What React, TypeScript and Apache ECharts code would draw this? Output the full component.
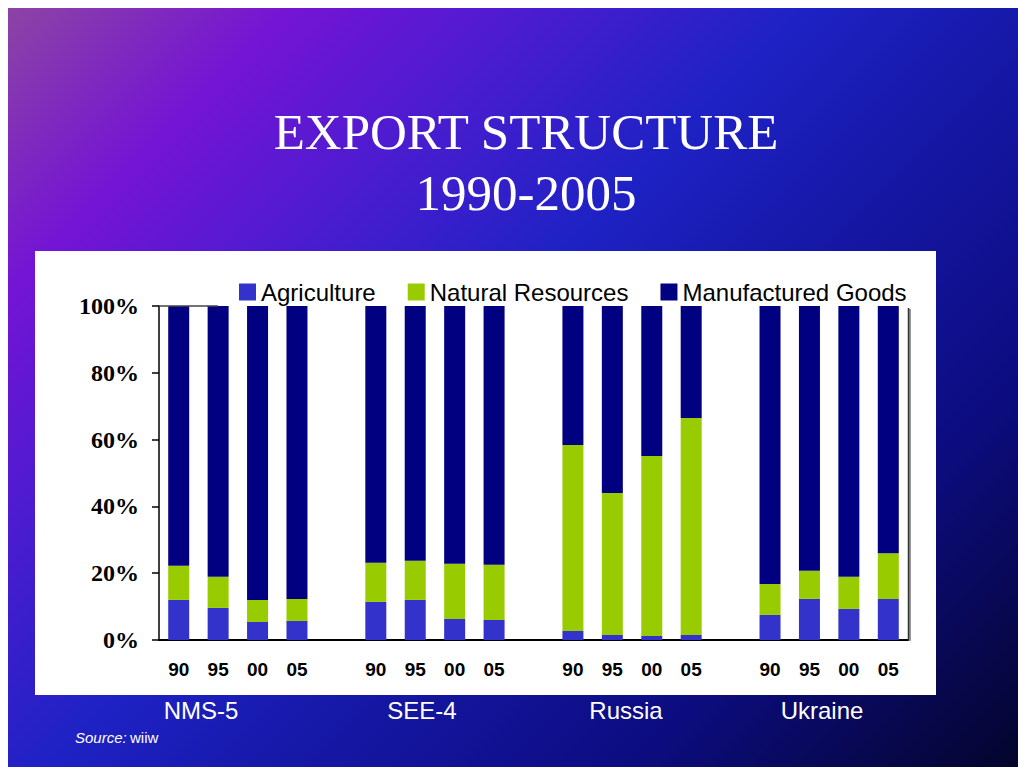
import React, { useEffect, useRef } from "react";
import * as echarts from "echarts";

const categories = ["90", "95", "00", "05", "", "90", "95", "00", "05", "", "90", "95", "00", "05", "", "90", "95", "00", "05"];
const agriculture = [12.0, 9.6, 5.4, 5.7, null, 11.4, 12.0, 6.3, 6.0, null, 2.7, 1.5, 1.2, 1.5, null, 7.5, 12.3, 9.3, 12.3];
const naturalResources = [10.2, 9.3, 6.6, 6.6, null, 11.7, 11.7, 16.5, 16.5, null, 55.7, 42.5, 53.9, 65.0, null, 9.3, 8.4, 9.6, 13.7];
const manufactured = [77.8, 81.1, 88.0, 87.7, null, 76.9, 76.3, 77.2, 77.5, null, 41.6, 56.0, 44.9, 33.5, null, 83.2, 79.3, 81.1, 74.0];
const groupLabels = ["NMS-5", "SEE-4", "Russia", "Ukraine"];
const groupLabelX = [193, 414, 618, 814];
const seriesNames = ["Agriculture", "Natural Resources", "Manufactured Goods"];
const seriesColors = ["#3333CC", "#99CC00", "#000080"];
const titleLines = ["EXPORT STRUCTURE", "1990-2005"];

export default function App() {
  const ref = useRef<HTMLDivElement>(null);
  useEffect(() => {
    document.body.style.overflow = "hidden";
    const chart = echarts.init(ref.current!, null, { renderer: "svg" });
    const values = [agriculture, naturalResources, manufactured];
    chart.setOption({
      animation: false,
      backgroundColor: "transparent",
      legend: {
        left: 226,
        top: 267,
        itemWidth: 17,
        itemHeight: 17,
        itemGap: 32,
        icon: "rect",
        textStyle: { fontFamily: "Liberation Sans, Arial, sans-serif", fontSize: 24, color: "#000" },
        data: seriesNames,
      },
      grid: { left: 151, top: 298, width: 749, height: 334, containLabel: false },
      xAxis: {
        type: "category",
        data: categories,
        axisLine: { lineStyle: { color: "#000", width: 2 } },
        axisTick: { show: false },
        axisLabel: {
          interval: 0,
          margin: 20,
          fontFamily: "Liberation Sans, Arial, sans-serif",
          fontWeight: "bold",
          fontSize: 19,
          color: "#000",
        },
      },
      yAxis: {
        type: "value",
        min: 0,
        max: 100,
        interval: 20,
        axisLine: { show: true, lineStyle: { color: "#000", width: 1.5 } },
        axisTick: { show: true, length: 7, lineStyle: { color: "#000", width: 1.5 } },
        splitLine: { show: false },
        axisLabel: {
          margin: 20,
          formatter: "{value}%",
          fontFamily: "Liberation Serif, Times New Roman, serif",
          fontWeight: "bold",
          fontSize: 24,
          color: "#000",
        },
      },
      series: seriesNames.map((name, i) => ({
        name,
        type: "bar",
        stack: "total",
        barWidth: 21,
        itemStyle: { color: seriesColors[i] },
        data: values[i],
      })),
      graphic: [
        {
          type: "rect",
          z: -10,
          shape: { x: 27, y: 243, width: 901, height: 444 },
          style: { fill: "#ffffff" },
        },
        {
          type: "line",
          z: 5,
          shape: { x1: 902, y1: 301, x2: 902, y2: 633 },
          style: { stroke: "#999999", lineWidth: 2 },
        },
        {
          type: "line",
          z: 6,
          shape: { x1: 900.5, y1: 300, x2: 900.5, y2: 632 },
          style: { stroke: "#333333", lineWidth: 1.5 },
        },
        {
          type: "line",
          z: 6,
          shape: { x1: 151, y1: 298, x2: 210, y2: 298 },
          style: { stroke: "#444444", lineWidth: 1.5 },
        },
        ...titleLines.map((t, i) => ({
          type: "text",
          x: 518,
          y: i === 0 ? 124 : 185,
          style: {
            text: t,
            fill: "#ffffff",
            font: "51px 'Liberation Serif', 'Times New Roman', serif",
            textAlign: "center",
            textVerticalAlign: "middle",
          },
        })),
        ...groupLabels.map((g, i) => ({
          type: "text",
          x: groupLabelX[i],
          y: 702,
          style: {
            text: g,
            fill: "#ffffff",
            font: "24px 'Liberation Sans', Arial, sans-serif",
            textAlign: "center",
            textVerticalAlign: "middle",
          },
        })),
        {
          type: "text",
          x: 67,
          y: 729,
          style: {
            text: "{i|Source:} {n|wiiw}",
            textVerticalAlign: "middle",
            rich: {
              i: { fontStyle: "italic", fontSize: 15, fontFamily: "Liberation Sans, Arial, sans-serif", fill: "#ffffff", color: "#ffffff" },
              n: { fontSize: 15, fontFamily: "Liberation Sans, Arial, sans-serif", fill: "#ffffff", color: "#ffffff" },
            },
          },
        },
      ],
    });
    return () => chart.dispose();
  }, []);
  return (
    <div
      ref={ref}
      style={{
        position: "fixed",
        left: 8,
        top: 8,
        width: 1010,
        height: 759,
        background:
          "linear-gradient(135deg, #8c44a4 0%, #7414d4 16%, #4a1cd0 30%, #1e22c4 45%, #1618a8 58%, #0c0c80 78%, #04042c 100%)",
      }}
    />
  );
}
